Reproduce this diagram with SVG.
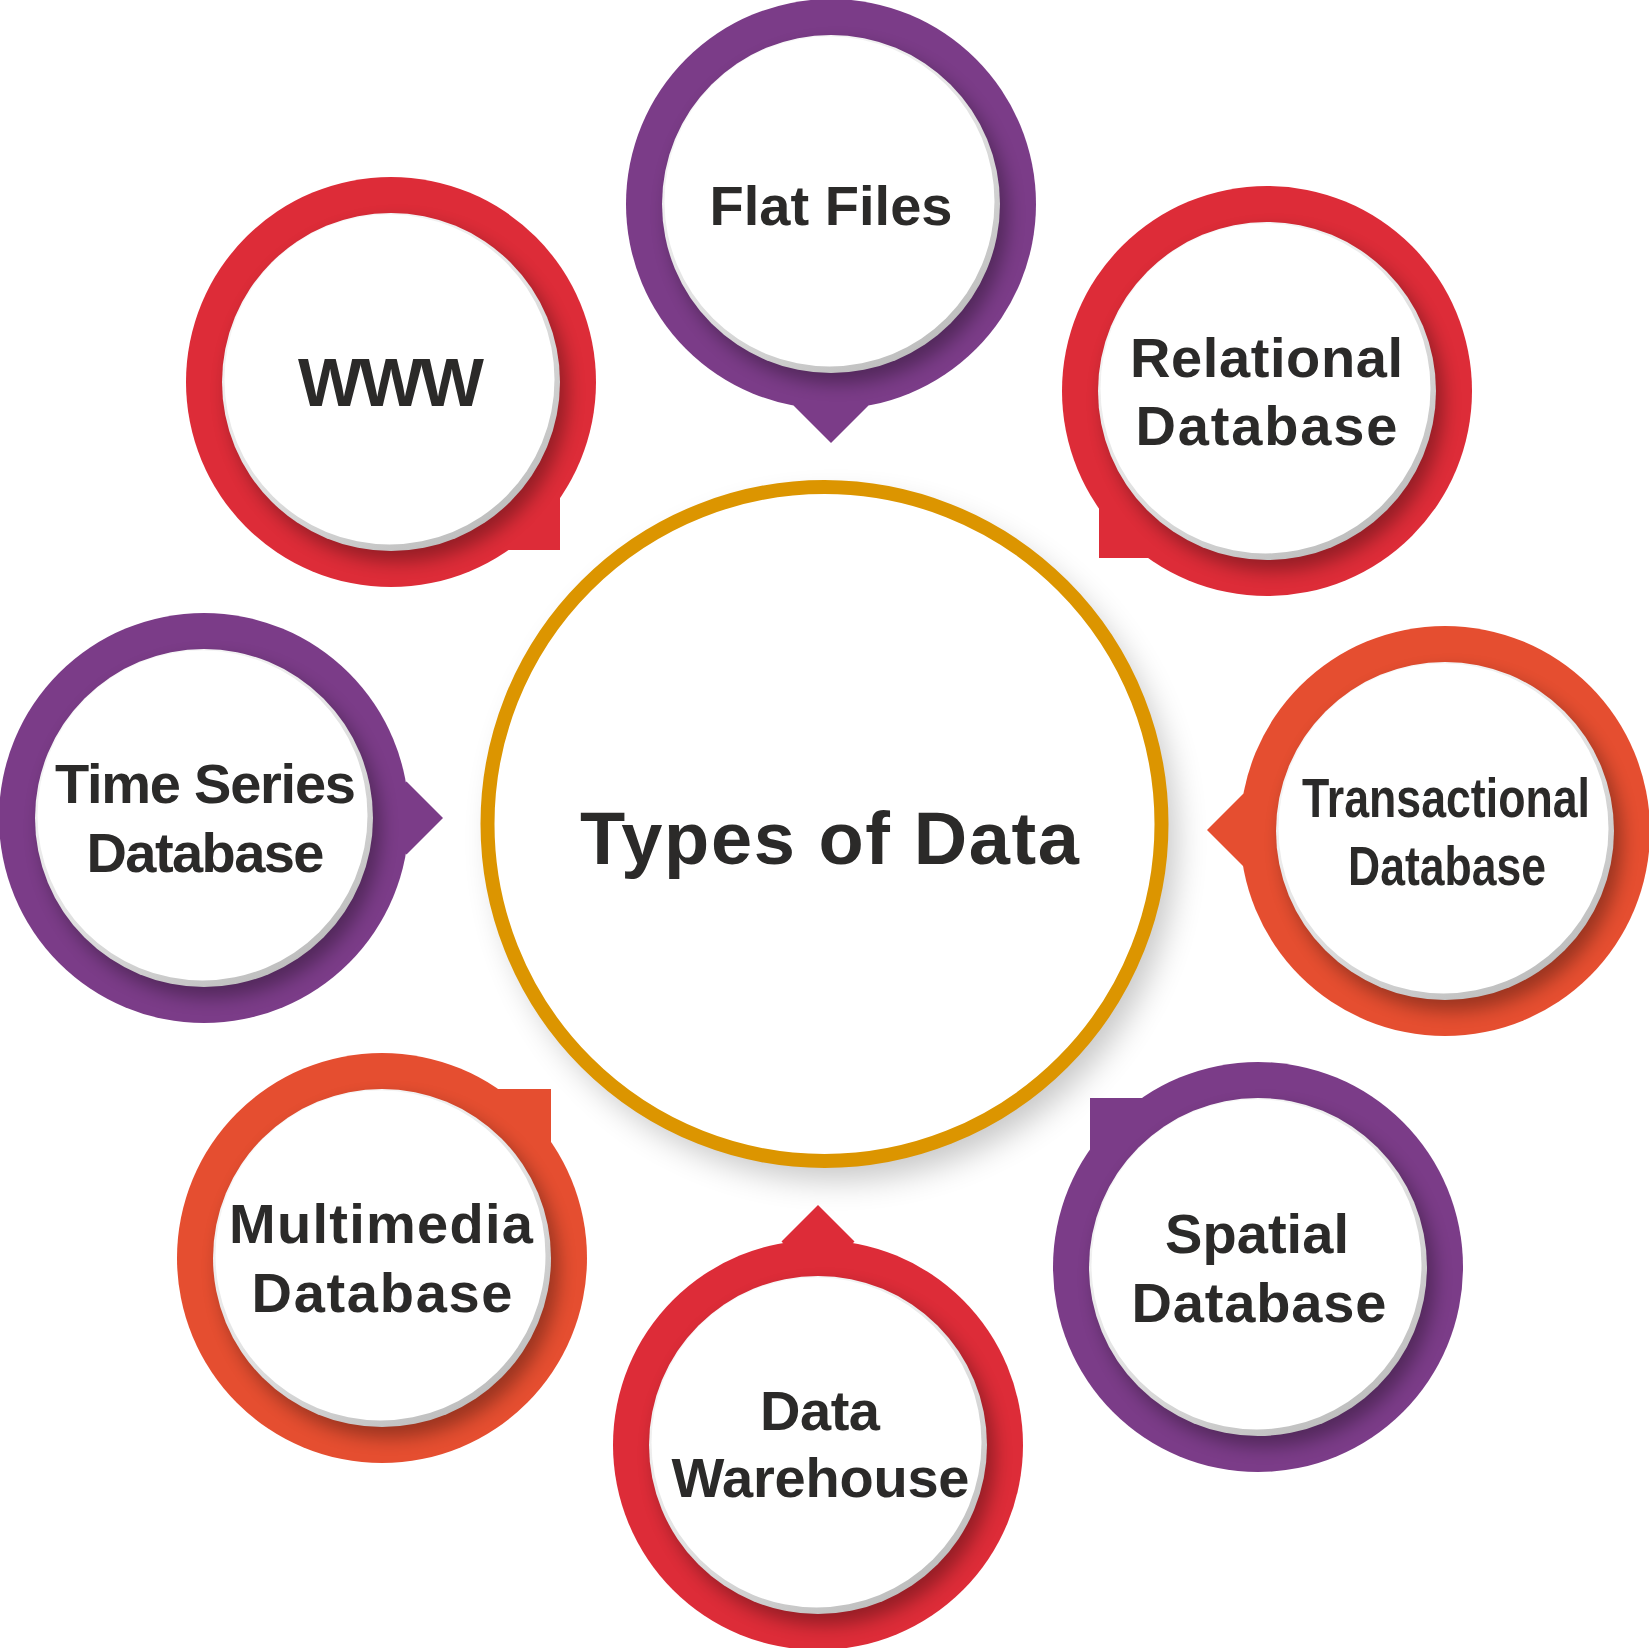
<svg xmlns="http://www.w3.org/2000/svg" width="1649" height="1648" viewBox="0 0 1649 1648">
<defs>
<style>
.lbl{font-family:"Liberation Sans",Arial,Helvetica,sans-serif;font-weight:700;fill:#2b2a29;text-anchor:middle;font-size:56px}
.narrow{font-family:"Liberation Sans Narrow","Liberation Sans",Arial,sans-serif}
.purple{fill:#7b3c88}
.red{fill:#dd2c38}
.orange{fill:#e54e30}
.shade{fill:#000;opacity:.32;filter:url(#soft)}
.bevel{fill:url(#bevel)}
.face{fill:#fff}
</style>
<linearGradient id="bevel" x1="0.2" y1="0.05" x2="0.8" y2="0.95">
<stop offset="0" stop-color="#fbfbfb"/>
<stop offset="0.5" stop-color="#e2e2e2"/>
<stop offset="1" stop-color="#bcbcbc"/>
</linearGradient>
<filter id="soft" x="-30%" y="-30%" width="160%" height="160%"><feGaussianBlur stdDeviation="9"/></filter>
<filter id="big" x="-30%" y="-30%" width="160%" height="160%"><feGaussianBlur stdDeviation="16"/></filter>
<clipPath id="c-ff"><circle cx="831" cy="204" r="205"/></clipPath>
<clipPath id="c-rd"><circle cx="1267" cy="391" r="205"/></clipPath>
<clipPath id="c-www"><circle cx="391" cy="382" r="205"/></clipPath>
<clipPath id="c-ts"><circle cx="204" cy="818" r="205"/></clipPath>
<clipPath id="c-td"><circle cx="1445" cy="831" r="205"/></clipPath>
<clipPath id="c-md"><circle cx="382" cy="1258" r="205"/></clipPath>
<clipPath id="c-dw"><circle cx="818" cy="1445" r="205"/></clipPath>
<clipPath id="c-sd"><circle cx="1258" cy="1267" r="205"/></clipPath>
</defs>
<rect width="1649" height="1648" fill="#fff"/>

<g id="node-center">
<circle cx="836" cy="840" r="340" fill="#000" opacity=".22" filter="url(#big)"/>
<circle cx="824.5" cy="824" r="337" fill="#fff" stroke="#dc9500" stroke-width="14"/>
<text class="lbl" x="829.5" y="864" style="font-size:74px" textLength="499">Types of Data</text>
</g>

<g id="connectors"></g>

<g id="node-flat-files">
<circle class="purple" cx="831" cy="204" r="205"/>
<path class="purple" d="M793.5 405.5 L831 443 L868.5 405.5 L831 368 Z"/>
<circle class="shade" cx="838" cy="214" r="170" clip-path="url(#c-ff)"/>
<circle class="bevel" cx="831" cy="204" r="169"/>
<circle class="face" cx="829.5" cy="201.5" r="165"/>
<text class="lbl" x="831" y="225" textLength="243">Flat Files</text>
</g>

<g id="node-relational">
<circle class="red" cx="1267" cy="391" r="205"/>
<rect class="red" x="1099" y="391" width="168" height="167"/>
<circle class="shade" cx="1274" cy="401" r="170" clip-path="url(#c-rd)"/>
<circle class="bevel" cx="1267" cy="391" r="169"/>
<circle class="face" cx="1265.5" cy="388.5" r="165"/>
<text class="lbl" x="1266.5" y="376.7" textLength="273">Relational</text>
<text class="lbl" x="1266.5" y="445" textLength="262">Database</text>
</g>

<g id="node-www">
<circle class="red" cx="391" cy="382" r="205"/>
<rect class="red" x="391" y="382" width="169" height="168"/>
<circle class="shade" cx="398" cy="392" r="170" clip-path="url(#c-www)"/>
<circle class="bevel" cx="391" cy="382" r="169"/>
<circle class="face" cx="389.5" cy="379.5" r="165"/>
<text class="lbl" x="391" y="406" style="font-size:68px" textLength="186">WWW</text>
</g>

<g id="node-time-series">
<circle class="purple" cx="204" cy="818" r="205"/>
<path class="purple" d="M406.5 781.5 L443 818 L406.5 854.5 L370 818 Z"/>
<circle class="shade" cx="211" cy="828" r="170" clip-path="url(#c-ts)"/>
<circle class="bevel" cx="204" cy="818" r="169"/>
<circle class="face" cx="202.5" cy="815.5" r="165"/>
<text class="lbl" x="205.5" y="803" textLength="301">Time Series</text>
<text class="lbl" x="205.5" y="871.7" textLength="238">Database</text>
</g>

<g id="node-transactional">
<circle class="orange" cx="1445" cy="831" r="205"/>
<path class="orange" d="M1243.5 793.5 L1207 830 L1243.5 866.5 L1280 830 Z"/>
<circle class="shade" cx="1452" cy="841" r="170" clip-path="url(#c-td)"/>
<circle class="bevel" cx="1445" cy="831" r="169"/>
<circle class="face" cx="1443.5" cy="828.5" r="165"/>
<text class="lbl narrow" x="1446" y="816.7" textLength="288" lengthAdjust="spacingAndGlyphs">Transactional</text>
<text class="lbl narrow" x="1447" y="885" textLength="198" lengthAdjust="spacingAndGlyphs">Database</text>
</g>

<g id="node-multimedia">
<circle class="orange" cx="382" cy="1258" r="205"/>
<rect class="orange" x="382" y="1089" width="169" height="169"/>
<circle class="shade" cx="389" cy="1268" r="170" clip-path="url(#c-md)"/>
<circle class="bevel" cx="382" cy="1258" r="169"/>
<circle class="face" cx="380.5" cy="1255.5" r="165"/>
<text class="lbl" x="381" y="1243.3" textLength="304">Multimedia</text>
<text class="lbl" x="382" y="1311.7" textLength="261">Database</text>
</g>

<g id="node-data-warehouse">
<circle class="red" cx="818" cy="1445" r="205"/>
<path class="red" d="M781.5 1241.5 L818 1205 L854.5 1241.5 L818 1278 Z"/>
<circle class="shade" cx="825" cy="1455" r="170" clip-path="url(#c-dw)"/>
<circle class="bevel" cx="818" cy="1445" r="169"/>
<circle class="face" cx="816.5" cy="1442.5" r="165"/>
<text class="lbl" x="820" y="1430" textLength="120">Data</text>
<text class="lbl" x="820.5" y="1496.7" textLength="298">Warehouse</text>
</g>

<g id="node-spatial">
<circle class="purple" cx="1258" cy="1267" r="205"/>
<rect class="purple" x="1090" y="1098" width="168" height="169"/>
<circle class="shade" cx="1265" cy="1277" r="170" clip-path="url(#c-sd)"/>
<circle class="bevel" cx="1258" cy="1267" r="169"/>
<circle class="face" cx="1256.5" cy="1264.5" r="165"/>
<text class="lbl" x="1257" y="1253.3" textLength="184">Spatial</text>
<text class="lbl" x="1259" y="1321.7" textLength="255">Database</text>
</g>
</svg>
